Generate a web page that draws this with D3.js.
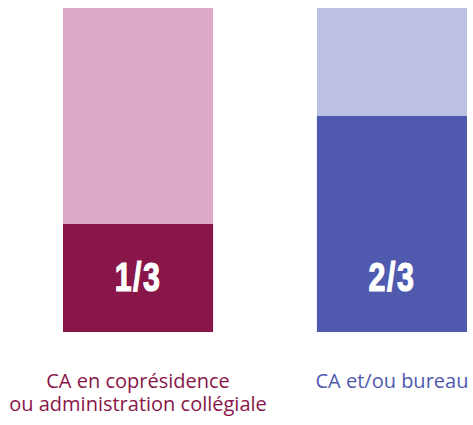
<html>
<head>
  <meta charset="utf-8" />
  <script src="https://cdnjs.cloudflare.com/ajax/libs/d3/7.8.5/d3.min.js"></script>
  <style>
    body { margin: 0; background: #fff; }
  </style>
</head>
<body>
  <svg></svg>
  <script>
  const categories = ["CA en coprésidence|ou administration collégiale", "CA et/ou bureau"];
  const shares = [1/3, 2/3];
  const shareLabels = ["1/3", "2/3"];
  const lightColors = ["#dcaac8", "#bcc1e3"];
  const darkColors = ["#891649", "#4f59ae"];

  const svg = d3.select("svg").attr("width", 473).attr("height", 425);

  const xScale = d3.scaleBand().domain(categories).range([63, 467]).paddingInner(0.409);
  const yScale = d3.scaleLinear().domain([0, 1]).range([332, 8]);

  // full background bars
  svg.selectAll("rect.bg")
    .data(categories)
    .enter()
    .append("rect")
      .attr("class", "bg")
      .attr("x", d => xScale(d))
      .attr("width", xScale.bandwidth())
      .attr("y", yScale(1))
      .attr("height", yScale(0) - yScale(1))
      .style("fill", (d, i) => lightColors[i]);

  // share bars
  svg.selectAll("rect.share")
    .data(categories)
    .enter()
    .append("rect")
      .attr("class", "share")
      .attr("x", d => xScale(d))
      .attr("width", xScale.bandwidth())
      .attr("y", (d, i) => yScale(shares[i]))
      .attr("height", (d, i) => yScale(0) - yScale(shares[i]))
      .style("fill", (d, i) => darkColors[i]);

  // fraction labels, condensed by scaling
  svg.selectAll("text.frac")
    .data(categories)
    .enter()
    .append("text")
      .attr("class", "frac")
      .attr("transform", d => `translate(${xScale(d) + xScale.bandwidth() / 2},291) scale(0.76,1)`)
      .attr("text-anchor", "middle")
      .style("font-family", "'Liberation Sans', Arial, sans-serif")
      .style("font-weight", "bold")
      .style("font-size", "40px")
      .style("letter-spacing", "2px")
      .style("stroke", "#fff")
      .style("stroke-width", 1.2)
      .style("fill", "#fff")
      .text((d, i) => shareLabels[i]);

  // category labels
  const cat = svg.selectAll("text.cat")
    .data(categories)
    .enter()
    .append("text")
      .attr("class", "cat")
      .attr("text-anchor", "middle")
      .style("font-family", "'Open Sans', sans-serif")
      .style("font-size", "20px")
      .style("fill", (d, i) => darkColors[i]);

  cat.selectAll("tspan")
    .data(d => d.split("|").map(t => ({ t, c: d })))
    .enter()
    .append("tspan")
      .attr("x", d => xScale(d.c) + xScale.bandwidth() / 2)
      .attr("y", (d, i) => 388 + i * 23)
      .text(d => d.t);
  </script>
</body>
</html>
